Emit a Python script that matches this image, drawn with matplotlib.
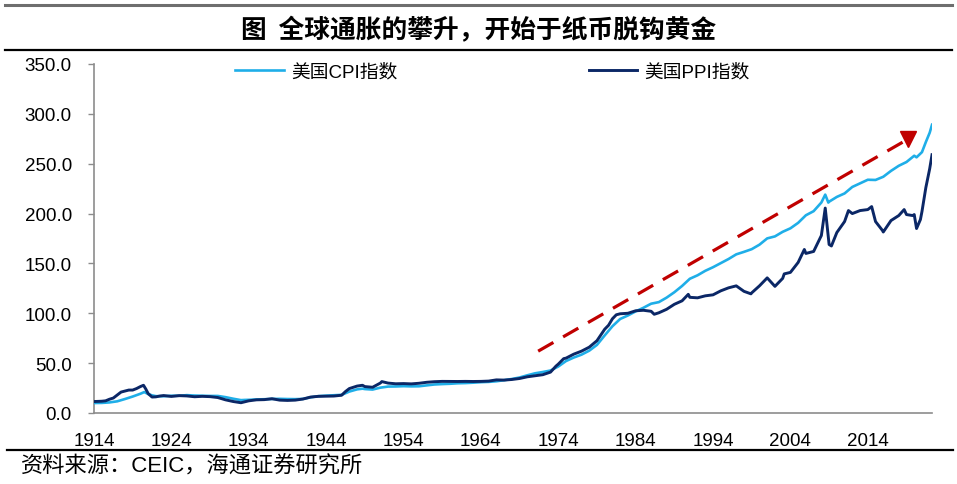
import matplotlib
matplotlib.use('Agg')
import matplotlib.pyplot as plt
from matplotlib.lines import Line2D
from matplotlib.ticker import FormatStrFormatter

outfile = "out.png"

# US CPI (1982-84=100)
cpi_year = [1914.0, 1915.0, 1916.0, 1917.0, 1918.0, 1919.0, 1920.0, 1920.5, 1921.0, 1921.5,
            1922.0, 1923.0, 1924.0, 1925.0, 1926.0, 1927.0, 1928.0, 1929.0, 1930.0, 1931.0,
            1932.0, 1933.0, 1933.5, 1934.0, 1935.0, 1936.0, 1937.0, 1938.0, 1939.0, 1940.0,
            1941.0, 1942.0, 1943.0, 1944.0, 1945.0, 1946.0, 1946.5, 1947.0, 1948.0, 1948.7,
            1949.0, 1950.0, 1951.0, 1952.0, 1953.0, 1954.0, 1955.0, 1956.0, 1957.0, 1958.0,
            1959.0, 1960.0, 1961.0, 1962.0, 1963.0, 1964.0, 1965.0, 1966.0, 1967.0, 1968.0,
            1969.0, 1970.0, 1971.0, 1972.0, 1973.0, 1974.0, 1975.0, 1976.0, 1977.0, 1978.0,
            1979.0, 1980.0, 1981.0, 1982.0, 1983.0, 1984.0, 1985.0, 1986.0, 1987.0, 1988.0,
            1989.0, 1990.0, 1991.0, 1992.0, 1993.0, 1994.0, 1995.0, 1996.0, 1997.0, 1998.0,
            1999.0, 2000.0, 2001.0, 2002.0, 2003.0, 2004.0, 2005.0, 2006.0, 2007.0, 2008.0,
            2008.5, 2008.9, 2009.0, 2010.0, 2011.0, 2012.0, 2013.0, 2014.0, 2015.0, 2016.0,
            2017.0, 2018.0, 2019.0, 2020.0, 2020.3, 2021.0, 2021.5, 2022.0, 2022.3]
cpi_val = [10.0, 10.1, 10.6, 11.7, 14.0, 16.5, 19.3, 21.0, 19.0, 17.7,
           16.9, 16.8, 17.3, 17.3, 17.9, 17.5, 17.3, 17.1, 17.1, 15.9,
           14.3, 12.9, 13.1, 13.2, 13.6, 13.8, 14.1, 14.2, 14.0, 13.9,
           14.1, 15.7, 16.9, 17.4, 17.8, 18.2, 19.8, 21.5, 23.7, 24.4,
           24.0, 23.5, 25.4, 26.5, 26.6, 26.9, 26.7, 26.8, 27.7, 28.6,
           29.0, 29.3, 29.8, 30.0, 30.4, 30.9, 31.2, 31.8, 32.9, 34.1,
           35.6, 37.8, 39.8, 41.1, 42.6, 46.6, 52.1, 55.6, 58.5, 62.5,
           68.3, 77.8, 87.0, 94.3, 97.8, 101.9, 105.5, 109.6, 111.2, 115.7,
           121.1, 127.4, 134.6, 138.1, 142.6, 146.2, 150.3, 154.4, 159.1, 161.6,
           164.3, 168.8, 175.1, 177.1, 181.7, 185.2, 190.7, 198.3, 202.4, 211.1,
           219.0, 211.0, 211.9, 216.7, 220.2, 226.7, 230.3, 233.9, 233.7, 236.9,
           242.8, 247.9, 251.7, 258.0, 256.4, 261.6, 271.7, 281.1, 289.1]

# US PPI all commodities (1982=100)
ppi_year = [1914.0, 1915.0, 1915.5, 1916.0, 1916.5, 1917.0, 1917.5, 1918.0, 1918.5, 1919.0,
            1919.5, 1920.0, 1920.4, 1920.7, 1921.0, 1921.5, 1922.0, 1922.5, 1923.0, 1924.0,
            1925.0, 1926.0, 1927.0, 1928.0, 1929.0, 1930.0, 1931.0, 1932.0, 1933.0, 1933.5,
            1934.0, 1935.0, 1936.0, 1937.0, 1938.0, 1939.0, 1940.0, 1941.0, 1942.0, 1943.0,
            1944.0, 1945.0, 1946.0, 1946.5, 1947.0, 1948.0, 1948.7, 1949.0, 1950.0, 1951.0,
            1951.2, 1952.0, 1953.0, 1954.0, 1955.0, 1956.0, 1957.0, 1958.0, 1959.0, 1960.0,
            1961.0, 1962.0, 1963.0, 1964.0, 1965.0, 1966.0, 1967.0, 1968.0, 1969.0, 1970.0,
            1971.0, 1972.0, 1973.0, 1973.7, 1974.0, 1974.7, 1975.0, 1976.0, 1977.0, 1978.0,
            1979.0, 1980.0, 1980.5, 1981.0, 1981.5, 1982.0, 1983.0, 1984.0, 1985.0, 1985.5,
            1986.0, 1986.4, 1987.0, 1988.0, 1989.0, 1990.0, 1990.8, 1991.0, 1992.0, 1993.0,
            1994.0, 1995.0, 1996.0, 1997.0, 1998.0, 1998.9, 1999.0, 2000.0, 2001.0, 2002.0,
            2003.0, 2003.2, 2004.0, 2005.0, 2005.8, 2006.0, 2007.0, 2008.0, 2008.5, 2009.0,
            2009.3, 2010.0, 2011.0, 2011.5, 2012.0, 2013.0, 2014.0, 2014.5, 2015.0, 2015.9,
            2016.0, 2017.0, 2018.0, 2018.7, 2019.0, 2019.8, 2020.0, 2020.3, 2020.8, 2021.0,
            2021.5, 2022.0, 2022.3]
ppi_val = [11.5, 11.8, 12.2, 13.8, 15.0, 18.0, 21.0, 22.0, 23.0, 23.0,
           24.5, 26.5, 27.8, 24.0, 19.5, 16.0, 16.2, 17.0, 17.5, 16.6,
           17.4, 17.1, 16.3, 16.7, 16.4, 15.5, 13.2, 11.5, 10.3, 11.3,
           12.2, 13.2, 13.4, 14.3, 12.9, 12.6, 12.9, 14.0, 16.0, 16.7,
           16.8, 17.0, 17.8, 21.5, 24.5, 27.0, 27.8, 26.5, 25.8, 30.0,
           31.5, 30.0, 29.3, 29.5, 29.2, 29.8, 30.8, 31.4, 31.7, 31.6,
           31.6, 31.7, 31.6, 31.7, 32.0, 33.2, 33.0, 33.6, 34.6, 36.3,
           37.3, 38.4, 41.0, 47.0, 49.0, 54.5, 55.0, 59.0, 62.0, 66.0,
           72.5, 84.0, 88.0, 94.5, 98.5, 99.5, 100.0, 102.5, 103.0, 102.5,
           102.0, 99.0, 100.5, 104.0, 109.0, 112.5, 119.0, 116.0, 115.5, 117.5,
           118.5, 122.5, 125.5, 127.5, 122.0, 119.5, 120.5, 127.5, 135.5, 127.0,
           135.0, 139.5, 141.0, 151.0, 164.0, 160.0, 162.0, 178.0, 205.5, 169.0,
           167.5, 181.0, 192.0, 203.0, 200.0, 203.0, 204.0, 207.0, 192.0, 183.0,
           181.5, 193.0, 198.0, 204.0, 199.0, 198.0, 199.0, 185.0, 194.0, 202.0,
           226.0, 245.0, 259.0]

xtick_years = [1914, 1924, 1934, 1944, 1954, 1964, 1974, 1984, 1994, 2004, 2014]
arrow_start = (1971.4, 62.0)
arrow_end = (2018.6, 272.0)

cpi_color = '#1FAEE8'
ppi_color = '#0B2766'
red = '#C00000'
latin_cjk = ['Liberation Sans', 'Noto Sans CJK SC']

fig = plt.figure(figsize=(9.57, 4.85), dpi=100)
ax = fig.add_axes([0.0982, 0.1464, 0.8757, 0.7196])

ax.plot(cpi_year, cpi_val, color=cpi_color, linewidth=1.9, label='美国CPI指数', zorder=3)
ax.plot(ppi_year, ppi_val, color=ppi_color, linewidth=2.1, label='美国PPI指数', zorder=4)

# red dashed trend arrow
ax.plot([arrow_start[0], arrow_end[0]], [arrow_start[1], arrow_end[1]],
        color=red, linewidth=2.3, dashes=(5.5, 3.5), zorder=5)
ax.plot([arrow_end[0] + 0.6], [arrow_end[1] + 3], marker='v', markersize=12,
        color=red, linestyle='none', zorder=5)

ax.set_xlim(1914, 2022.3)
ax.set_ylim(0, 350)
ax.set_yticks(range(0, 351, 50))
ax.yaxis.set_major_formatter(FormatStrFormatter('%.1f'))
ax.set_xticks(xtick_years)
ax.set_xticklabels([str(y) for y in xtick_years])

for s in ['top', 'right']:
  ax.spines[s].set_visible(False)
for s in ['left', 'bottom']:
  ax.spines[s].set_color('#8C8C8C')
  ax.spines[s].set_linewidth(1.2)
ax.tick_params(axis='y', length=4, width=1, color='#8C8C8C', pad=12,
               labelsize=13.5, labelcolor='black')
ax.tick_params(axis='x', length=0, pad=14, labelsize=13.5, labelcolor='black')
for lab in ax.get_xticklabels() + ax.get_yticklabels():
  lab.set_family('Liberation Sans')

leg = ax.legend(loc='center left', bbox_to_anchor=(0.168, 0.977), ncol=2,
                frameon=False, borderpad=0, borderaxespad=0, handlelength=2.6,
                handletextpad=0.4, columnspacing=10.2,
                prop={'family': latin_cjk, 'size': 13.5})

# title and rules
fig.add_artist(Line2D([0.005, 0.995], [1 - 6/485, 1 - 6/485], color='#6E6E6E', linewidth=2.2))
fig.add_artist(Line2D([0.005, 0.995], [1 - 51/485, 1 - 51/485], color='black', linewidth=1.6))
fig.add_artist(Line2D([0.007, 0.996], [1 - 451/485, 1 - 451/485], color='black', linewidth=1.6))
fig.text(0.5, 1 - 31/485, '图  全球通胀的攀升，开始于纸币脱钩黄金', ha='center', va='center',
         fontsize=18.5, fontweight='bold', family=['Noto Sans CJK SC', 'DejaVu Sans'])
fig.text(0.022, 1 - 467/485, '资料来源：CEIC，海通证券研究所', ha='left', va='center',
         fontsize=16, family=latin_cjk)

fig.savefig(outfile, dpi=100)
print(f'wrote output file {outfile}')
